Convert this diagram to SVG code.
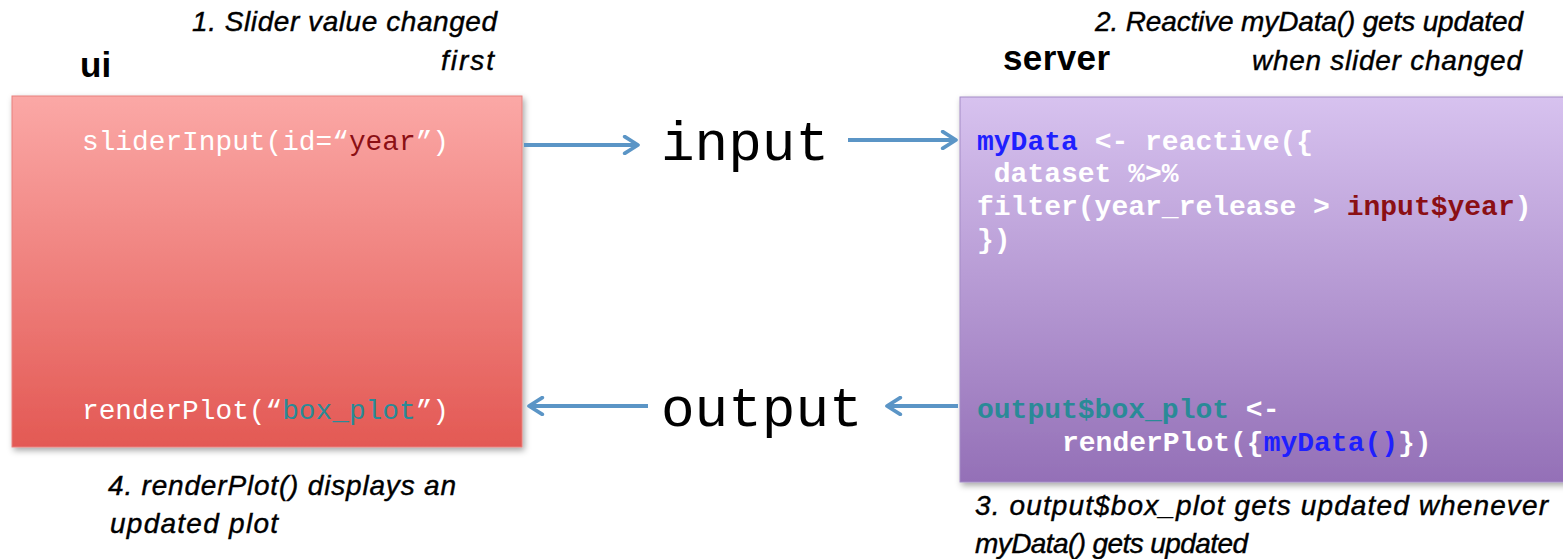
<svg xmlns="http://www.w3.org/2000/svg" width="1563" height="559" viewBox="0 0 1563 559">
<style>
.cap{font-family:"Liberation Sans",Arial,sans-serif;font-style:italic;font-size:28px;fill:#000;stroke:#000;stroke-width:0.4}
.head{font-family:"Liberation Sans",Arial,sans-serif;font-weight:bold;font-size:35px;fill:#000}
.code{font-family:"Liberation Mono","Courier New",monospace;font-size:27.8px;fill:#fff}
.scode{font-family:"Liberation Mono","Courier New",monospace;font-size:28px;font-weight:bold;fill:#fff}
.big{font-family:"Liberation Mono","Courier New",monospace;font-size:56px;fill:#000}
.blue{fill:#1f1fff}
.red{fill:#8b0f14}
.teal{fill:#2a8a97}
.conn{stroke:#5b95c6;stroke-width:4;fill:none;marker-end:url(#arr)}
</style>
<defs>
<linearGradient id="gRed" x1="0" y1="0" x2="0" y2="1">
<stop offset="0" stop-color="#fba8a6"/>
<stop offset="1" stop-color="#e35954"/>
</linearGradient>
<linearGradient id="gPur" x1="0" y1="0" x2="0" y2="1">
<stop offset="0" stop-color="#d7c2ef"/>
<stop offset="1" stop-color="#9470b7"/>
</linearGradient>
<filter id="sh" x="-5%" y="-5%" width="115%" height="115%">
<feDropShadow dx="2" dy="3" stdDeviation="3" flood-color="#000" flood-opacity="0.35"/>
</filter>
<marker id="arr" viewBox="0 0 12 12" refX="10" refY="6" markerWidth="5" markerHeight="5" orient="auto" markerUnits="strokeWidth">
<path d="M2,1 L10,6 L2,11" fill="none" stroke="#5b95c6" stroke-width="2.2" stroke-linecap="round" stroke-linejoin="round"/>
</marker>
</defs>
<rect width="1563" height="559" fill="#fff"/>

<g id="ui">
<text class="head" x="80" y="77">ui</text>
<rect x="12" y="96" width="510" height="351" fill="url(#gRed)" stroke="#e8807c" stroke-width="1" filter="url(#sh)"/>
<text class="code" x="82" y="150">sliderInput(id=“<tspan class="red">year</tspan>”)</text>
<text class="code" x="82" y="419">renderPlot(“<tspan class="teal">box_plot</tspan>”)</text>
</g>

<g id="server">
<text class="head" x="1003" y="70" textLength="107">server</text>
<rect x="960" y="97" width="610" height="385" fill="url(#gPur)" stroke="#a48cc6" stroke-width="1" filter="url(#sh)"/>
<text class="scode" x="977" y="150"><tspan class="blue">myData</tspan> &lt;- reactive({</text>
<text class="scode" x="977" y="182" xml:space="preserve"> dataset %&gt;%</text>
<text class="scode" x="977" y="215">filter(year_release &gt; <tspan class="red">input$year</tspan>)</text>
<text class="scode" x="977" y="248">})</text>
<text class="scode" x="977" y="418"><tspan class="teal">output$box_plot</tspan> &lt;-</text>
<text class="scode" x="1062" y="451">renderPlot({<tspan class="blue">myData()</tspan>})</text>
</g>

<g id="input">
<text class="big" x="661" y="160">input</text>
</g>
<g id="output">
<text class="big" x="661" y="426">output</text>
</g>

<g id="connectors">
<line class="conn" x1="524" y1="145" x2="638" y2="145"/>
<line class="conn" x1="848" y1="140" x2="956" y2="140"/>
<line class="conn" x1="648" y1="406" x2="529" y2="406"/>
<line class="conn" x1="958" y1="406" x2="887" y2="406"/>
</g>

<g id="notes">
<text class="cap" x="192" y="31" textLength="305">1. Slider value changed</text>
<text class="cap" x="441" y="70" textLength="53">first</text>
<text class="cap" x="1095" y="31" textLength="428">2. Reactive myData() gets updated</text>
<text class="cap" x="1252" y="70" textLength="270">when slider changed</text>
<text class="cap" x="108" y="495" textLength="348">4. renderPlot() displays an</text>
<text class="cap" x="110" y="533" textLength="168">updated plot</text>
<text class="cap" x="975" y="515" textLength="573">3. output$box_plot gets updated whenever</text>
<text class="cap" x="975" y="553" textLength="273">myData() gets updated</text>
</g>
</svg>
